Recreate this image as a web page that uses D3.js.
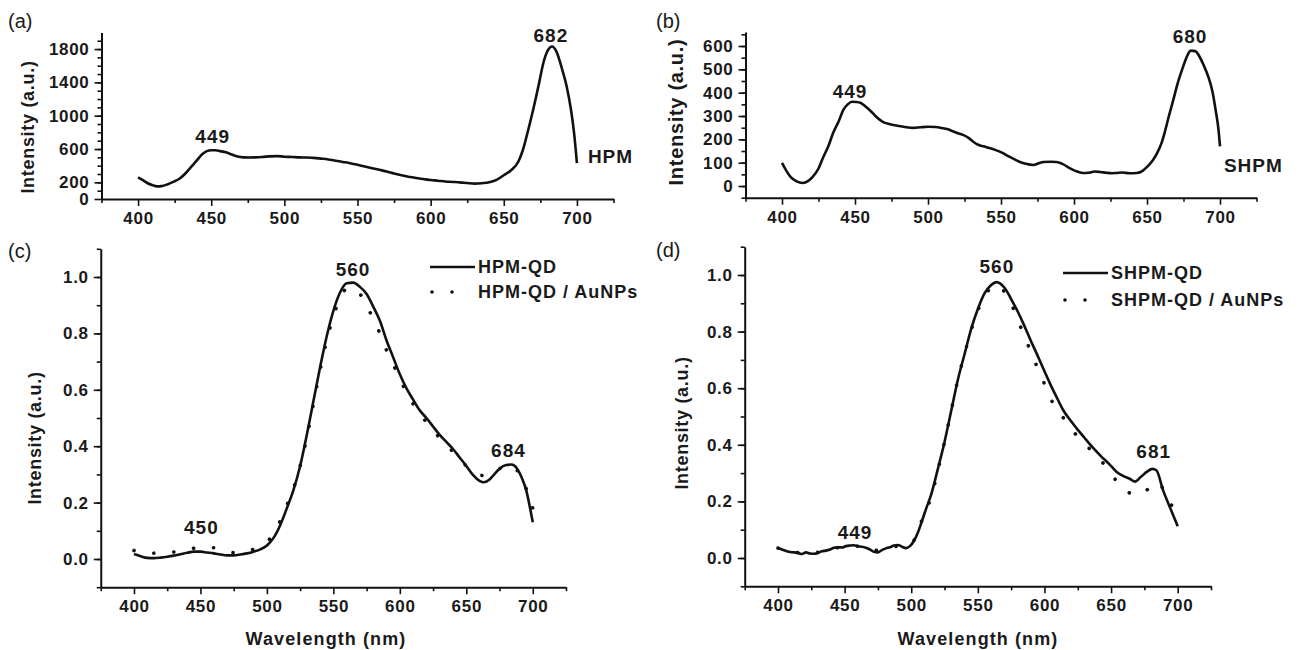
<!DOCTYPE html>
<html>
<head>
<meta charset="utf-8">
<script src="https://cdn.jsdelivr.net/npm/d3@7"></script>
<style>
  html, body { margin: 0; padding: 0; background: #fff; }
  svg { display: block; }
  text { font-family: "Liberation Sans", Arial, sans-serif; fill: #1a1a1a; }
</style>
</head>
<body>
<svg id="chart" width="1304" height="650"></svg>
<script>
// ---------------- DATA ----------------
// (a) HPM
const wlA = [400,403,406,410,413,416,420,424,428,432,436,440,444,447,450,453,456,460,464,468,472,476,480,485,490,495,500,505,510,515,520,525,530,535,540,545,550,555,560,565,570,575,580,585,590,595,600,605,610,615,620,625,630,635,640,645,650,655,660,663,667,670,674,677,680,683,686,690,693,696,698,700];
const hpm = [260,230,195,165,152,155,175,205,240,300,380,460,540,575,585,585,575,560,535,510,500,498,500,505,512,515,508,505,500,498,494,485,475,460,445,430,410,390,370,350,330,305,285,268,252,240,228,220,210,205,200,192,185,190,200,230,285,345,450,585,850,1065,1380,1630,1780,1830,1770,1550,1350,1065,800,430];

// (b) SHPM
const wlB = [400,403,406,410,414,418,421,425,428,432,435,439,442,445,448,451,454,457,460,464,469,474,479,484,490,495,500,505,510,513,517,521,524,528,531,534,538,542,546,551,555,559,563,567,572,576,579,584,588,592,597,601,606,610,614,618,622,626,629,633,638,643,647,650,654,657,660,662,665,668,671,674,677,680,683,686,689,692,695,697,699,700];
const shpm = [99,65,38,20,13,22,39,75,120,175,227,280,326,350,361,360,356,342,326,300,275,265,258,253,249,252,254,253,248,244,235,225,219,205,190,178,170,163,155,142,128,115,103,95,90,98,103,104,103,95,77,65,56,57,62,60,57,55,56,58,55,56,65,82,110,142,185,227,300,369,440,498,550,580,578,554,515,468,400,326,240,170];

// (c) HPM-QD and HPM-QD / AuNPs
const wlC = [400,405,410,415,420,425,430,435,440,445,450,455,460,465,470,475,480,485,490,495,500,505,510,515,520,525,530,535,540,545,550,555,560,565,570,575,580,585,590,595,600,605,610,615,620,625,630,635,640,645,650,655,660,663,667,670,675,680,684,688,692,695,698,700];
const hpmQD = [0.018,0.010,0.004,0.003,0.005,0.008,0.012,0.017,0.022,0.026,0.026,0.023,0.020,0.016,0.013,0.013,0.016,0.020,0.026,0.034,0.048,0.075,0.120,0.180,0.245,0.330,0.440,0.560,0.680,0.790,0.880,0.945,0.978,0.980,0.965,0.940,0.895,0.845,0.775,0.715,0.655,0.605,0.565,0.527,0.500,0.470,0.440,0.415,0.390,0.360,0.330,0.298,0.277,0.272,0.280,0.295,0.320,0.333,0.335,0.322,0.285,0.245,0.180,0.130];
const wlC2 = [400,410,420,430,440,450,460,470,480,490,500,505,510,515,520,525,530,535,540,545,550,555,560,565,570,575,580,585,590,595,600,605,610,615,620,625,630,635,640,645,650,655,660,665,670,675,680,685,690,695,700];
const hpmQDAu = [0.030,0.020,0.022,0.025,0.032,0.042,0.040,0.025,0.022,0.035,0.060,0.090,0.135,0.190,0.250,0.330,0.430,0.550,0.670,0.775,0.860,0.925,0.958,0.960,0.940,0.900,0.850,0.800,0.740,0.690,0.640,0.590,0.550,0.515,0.485,0.455,0.430,0.405,0.380,0.355,0.330,0.310,0.298,0.295,0.305,0.320,0.330,0.330,0.300,0.250,0.180];

// (d) SHPM-QD and SHPM-QD / AuNPs
const wlD = [400,403,406,409,412,415,418,421,424,427,430,433,436,439,442,445,448,451,454,457,460,463,466,469,472,475,478,481,484,487,490,493,496,499,502,505,508,511,515,520,525,530,535,540,545,550,555,560,564,570,575,580,584,590,594,600,604,610,614,620,624,630,636,642,649,654,659,664,668,672,677,681,684,689,695,700];
const shpmQD = [0.035,0.030,0.025,0.021,0.020,0.018,0.014,0.020,0.016,0.015,0.018,0.024,0.026,0.030,0.036,0.038,0.037,0.042,0.044,0.045,0.041,0.040,0.036,0.030,0.022,0.020,0.028,0.034,0.038,0.044,0.046,0.040,0.035,0.042,0.060,0.090,0.130,0.172,0.225,0.315,0.410,0.520,0.630,0.720,0.810,0.880,0.935,0.965,0.975,0.955,0.915,0.870,0.830,0.765,0.724,0.660,0.618,0.560,0.523,0.483,0.459,0.425,0.392,0.362,0.330,0.305,0.290,0.280,0.270,0.285,0.305,0.315,0.310,0.240,0.170,0.112];
const wlD2 = [400,410,420,430,440,450,460,470,480,490,500,505,510,515,520,525,530,535,540,545,550,555,560,565,570,575,580,585,590,595,600,605,610,615,620,625,630,635,640,645,650,655,660,665,670,675,680,685,690,695,700];
const shpmQDAu = [0.035,0.022,0.018,0.020,0.032,0.040,0.042,0.025,0.035,0.042,0.050,0.095,0.160,0.215,0.310,0.410,0.520,0.630,0.720,0.805,0.875,0.925,0.955,0.965,0.940,0.900,0.840,0.785,0.725,0.670,0.615,0.560,0.520,0.490,0.455,0.430,0.405,0.380,0.355,0.330,0.300,0.265,0.240,0.228,0.222,0.232,0.255,0.268,0.235,0.190,0.140];

// tick labels
const xTicks = [400,450,500,550,600,650,700];
const xMinor = [375,425,475,525,575,625,675,725];
const yTicksA = [0,200,600,1000,1400,1800];
const yTicksB = [0,100,200,300,400,500,600];
const yTicksCD = [0.0,0.2,0.4,0.6,0.8,1.0];

// ---------------- DRAWING ----------------
const svg = d3.select("#chart");
const BLACK = "#111";

const panels = [
  { label:"(a)", lx:8, ly:28, xr:[101.5,613.5], yr:[199,32.4], xd:[375,725], yd:[0,2000],
    yt:yTicksA, ym:d3.range(100,2000,100), fmt:d3.format("d"),
    ytitle:{x:34, y:127, size:18},
    series:[{x:wlA, y:hpm, dotted:false}],
    notes:[{t:"449",x:451,y:670,a:"middle"},{t:"682",x:682.2,y:1884,a:"middle"},{t:"HPM",x:707.5,y:428,a:"start"}] },
  { label:"(b)", lx:656, ly:28, xr:[745.5,1256.5], yr:[197.7,32], xd:[375,725], yd:[-50,660],
    yt:yTicksB, ym:d3.range(-50,660,50), fmt:d3.format("d"),
    ytitle:{x:683, y:112, size:20},
    series:[{x:wlB, y:shpm, dotted:false}],
    notes:[{t:"449",x:446.6,y:377,a:"middle"},{t:"680",x:679.5,y:613,a:"middle"},{t:"SHPM",x:702.7,y:60,a:"start"}] },
  { label:"(c)", lx:8, ly:258, xr:[100.75,566], yr:[587.2,248.8], xd:[375,725], yd:[-0.1,1.1],
    yt:yTicksCD, ym:d3.range(-0.1,1.15,0.1), fmt:d3.format(".1f"),
    ytitle:{x:41, y:438, size:18}, xtitle:{x:326, y:645},
    series:[{x:wlC2, y:hpmQDAu, dotted:true},{x:wlC, y:hpmQD, dotted:false}],
    notes:[{t:"450",x:450.7,y:0.0885,a:"middle"},{t:"560",x:564.8,y:1.005,a:"middle"},{t:"684",x:681.7,y:0.361,a:"middle"}],
    legend:{x:430, y1:267, y2:292, names:["HPM-QD","HPM-QD / AuNPs"]} },
  { label:"(d)", lx:656, ly:257, xr:[744.7,1211], yr:[586.3,246.7], xd:[375,725], yd:[-0.1,1.1],
    yt:yTicksCD, ym:d3.range(-0.1,1.15,0.1), fmt:d3.format(".1f"),
    ytitle:{x:688, y:423, size:18}, xtitle:{x:978, y:645},
    series:[{x:wlD2, y:shpmQDAu, dotted:true},{x:wlD, y:shpmQD, dotted:false}],
    notes:[{t:"449",x:457.8,y:0.067,a:"middle"},{t:"560",x:564.3,y:1.007,a:"middle"},{t:"681",x:682,y:0.353,a:"middle"}],
    legend:{x:1063, y1:273, y2:300, names:["SHPM-QD","SHPM-QD / AuNPs"]} }
];

panels.forEach(p => {
  const x = d3.scaleLinear().domain(p.xd).range(p.xr);
  const y = d3.scaleLinear().domain(p.yd).range(p.yr);
  const g = svg.append("g");
  const x0 = p.xr[0], y0 = p.yr[0];

  // minor ticks
  g.append("g").attr("transform",`translate(0,${y0})`)
    .call(d3.axisBottom(x).tickValues(xMinor).tickSize(4).tickFormat(""))
    .call(s => s.select(".domain").remove());
  g.append("g").attr("transform",`translate(${x0},0)`)
    .call(d3.axisLeft(y).tickValues(p.ym).tickSize(4).tickFormat(""))
    .call(s => s.select(".domain").remove());

  // major axes
  const ax = g.append("g").attr("transform",`translate(0,${y0})`)
    .call(d3.axisBottom(x).tickValues(xTicks).tickSize(7).tickPadding(6).tickSizeOuter(0));
  const ay = g.append("g").attr("transform",`translate(${x0},0)`)
    .call(d3.axisLeft(y).tickValues(p.yt).tickFormat(p.fmt).tickSize(7).tickPadding(5).tickSizeOuter(0));

  g.selectAll(".domain").attr("stroke",BLACK).attr("stroke-width",2);
  g.selectAll(".tick line").attr("stroke",BLACK).attr("stroke-width",1.6);
  [ax, ay].forEach(a => a.selectAll("text")
    .style("font-family","'Liberation Sans', Arial, sans-serif")
    .style("font-size","17px").style("font-weight","bold")
    .style("letter-spacing","0.7px").attr("fill","#1a1a1a"));

  // lines
  p.series.forEach(s => {
    const pts = s.x.map((v,i) => [v, s.y[i]]);
    const line = d3.line().x(d => x(d[0])).y(d => y(d[1])).curve(d3.curveMonotoneX);
    const path = g.append("path").datum(pts).attr("d", line)
      .attr("fill","none").attr("stroke",BLACK);
    if (s.dotted) {
      path.attr("stroke-width",3.6).attr("stroke-dasharray","0.1,20").attr("stroke-linecap","round");
    } else {
      path.attr("stroke-width",2.6).attr("stroke-linejoin","round");
    }
  });

  // panel label
  svg.append("text").attr("x",p.lx).attr("y",p.ly).text(p.label)
    .style("font-size","20px");

  // y title
  svg.append("text")
    .attr("transform",`translate(${p.ytitle.x},${p.ytitle.y}) rotate(-90)`)
    .attr("text-anchor","middle")
    .style("font-size",p.ytitle.size+"px").style("font-weight","bold").style("letter-spacing","0.7px")
    .text("Intensity (a.u.)");

  if (p.xtitle) {
    svg.append("text").attr("x",p.xtitle.x).attr("y",p.xtitle.y)
      .attr("text-anchor","middle")
      .style("font-size","18px").style("font-weight","bold").style("letter-spacing","1.1px")
      .text("Wavelength (nm)");
  }

  // annotations
  p.notes.forEach(n => {
    svg.append("text").attr("x",x(n.x)).attr("y",y(n.y)).attr("text-anchor",n.a)
      .style("font-size","19px").style("font-weight","bold").style("letter-spacing","1px")
      .text(n.t);
  });

  // legend
  if (p.legend) {
    const L = p.legend;
    svg.append("line").attr("x1",L.x).attr("x2",L.x+45).attr("y1",L.y1).attr("y2",L.y1)
      .attr("stroke",BLACK).attr("stroke-width",2.6);
    [0,1].forEach(k => svg.append("circle").attr("cx",L.x+2+k*20).attr("cy",L.y2).attr("r",1.8).attr("fill",BLACK));
    svg.append("text").attr("x",L.x+48).attr("y",L.y1+6).text(L.names[0])
      .style("font-size","18px").style("font-weight","bold").style("letter-spacing","1px");
    svg.append("text").attr("x",L.x+48).attr("y",L.y2+6).text(L.names[1])
      .style("font-size","18px").style("font-weight","bold").style("letter-spacing","1px");
  }
});
</script>
</body>
</html>
